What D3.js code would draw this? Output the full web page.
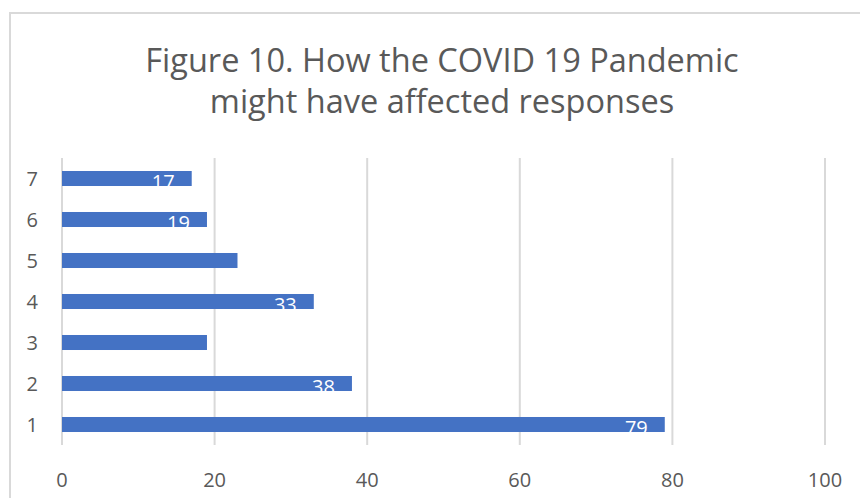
<!DOCTYPE html>
<html>
<head>
<meta charset="utf-8">
<script src="https://cdn.jsdelivr.net/npm/d3@7"></script>
<style>
  body { margin: 0; background: #fff; }
  text { font-family: "Open Sans", sans-serif; fill: #595959; }
</style>
</head>
<body>
<div id="graph"></div>
<script>
// categories from bottom (1) to top (7) and the counts
var categories = ["1", "2", "3", "4", "5", "6", "7"];
var counts = [79, 38, 19, 33, 23, 19, 17];
var xTicks = [0, 20, 40, 60, 80, 100];
// data labels that show inside the bars (the others fell below the bar)
var labelledCats = ["1", "2", "4", "6", "7"];

var titleLines = ["Figure 10. How the COVID 19 Pandemic", "might have affected responses"];

var width = 860, height = 498;
var margin = {top: 158, right: 35, bottom: 53, left: 62};
var innerWidth = width - margin.left - margin.right,
    innerHeight = height - margin.top - margin.bottom;

var data = categories.map(function(c, i) { return {cat: c, value: counts[i]}; });

var svg = d3.select('#graph').append('svg').attr('width', width).attr('height', height);

// chart frame
svg.append('rect')
    .attr('x', 10).attr('y', 13)
    .attr('width', 880).attr('height', 520)
    .attr('fill', 'none')
    .attr('stroke', '#d9d9d9')
    .attr('stroke-width', 2);

// title
svg.append('text')
    .attr('text-anchor', 'middle')
    .attr('font-size', 32.5)
    .selectAll('tspan')
    .data(titleLines)
    .enter().append('tspan')
    .attr('x', 442)
    .attr('y', (d, i) => 72 + i * 41)
    .text(d => d);

var g = svg.append('g').attr('transform', 'translate(' + margin.left + ',' + margin.top + ')');

var x = d3.scaleLinear().domain([0, 100]).range([0, innerWidth]);
var y = d3.scaleBand()
    .domain(categories.slice().reverse())
    .range([0, innerHeight])
    .paddingInner(0.634)
    .paddingOuter(0.317);

// vertical gridlines
g.append('g')
    .selectAll('line')
    .data(xTicks)
    .enter().append('line')
    .attr('x1', d => x(d)).attr('x2', d => x(d))
    .attr('y1', 0).attr('y2', innerHeight)
    .attr('stroke', '#d9d9d9')
    .attr('stroke-width', 2);

// clip each bar so white labels only show on the blue
var defs = svg.append('defs');
defs.selectAll('clipPath')
    .data(data)
    .enter().append('clipPath')
    .attr('id', d => 'clip' + d.cat)
    .append('rect')
    .attr('x', 0)
    .attr('y', d => y(d.cat))
    .attr('width', d => x(d.value))
    .attr('height', y.bandwidth());

g.append('g')
    .selectAll('rect')
    .data(data)
    .enter().append('rect')
    .attr('x', 0)
    .attr('y', d => y(d.cat))
    .attr('width', d => x(d.value))
    .attr('height', y.bandwidth())
    .attr('fill', '#4472c4');

g.append('g')
    .selectAll('text')
    .data(data.filter(d => labelledCats.indexOf(d.cat) >= 0))
    .enter().append('text')
    .attr('clip-path', d => 'url(#clip' + d.cat + ')')
    .attr('x', d => x(d.value) - 17)
    .attr('y', d => y(d.cat) + y.bandwidth() + 3)
    .attr('text-anchor', 'end')
    .attr('font-size', 20)
    .style('fill', '#fff')
    .text(d => d.value);

// y axis labels
g.append('g')
    .selectAll('text')
    .data(categories)
    .enter().append('text')
    .attr('x', -24)
    .attr('y', d => y(d) + y.bandwidth() / 2)
    .attr('dy', '0.36em')
    .attr('text-anchor', 'end')
    .attr('font-size', 20)
    .text(d => d);

// x axis labels
g.append('g')
    .selectAll('text')
    .data(xTicks)
    .enter().append('text')
    .attr('x', d => x(d))
    .attr('y', innerHeight + 42)
    .attr('text-anchor', 'middle')
    .attr('font-size', 20)
    .text(d => d);
</script>
</body>
</html>
